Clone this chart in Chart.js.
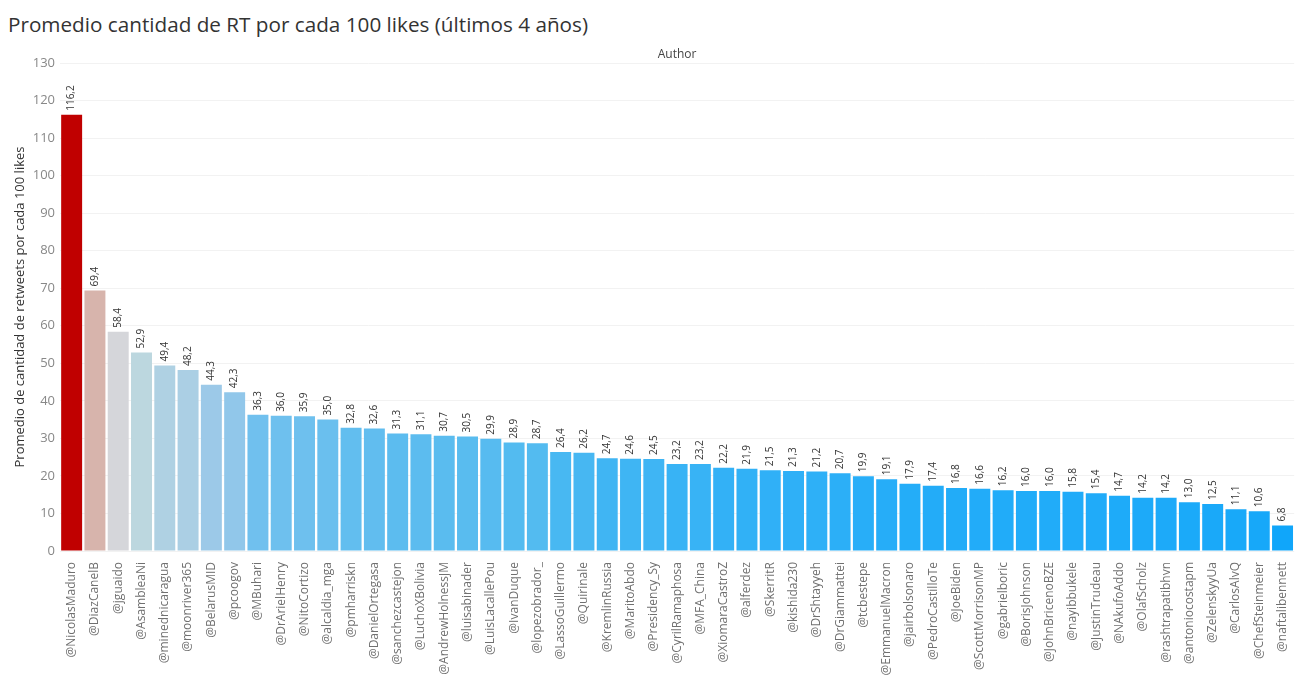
<!DOCTYPE html>
<html>
<head>
<meta charset="utf-8">
<script src="https://cdn.jsdelivr.net/npm/chart.js@4.4.0/dist/chart.umd.min.js"></script>
<style>
  html, body { margin: 0; padding: 0; background: #fff; }
  #title {
    position: absolute; left: 8px; top: 10px;
    font-family: "Open Sans", "Noto Sans", sans-serif; font-size: 20.7px; color: #333;
    white-space: nowrap;
  }
  #wrap { position: absolute; left: 0; top: 40px; width: 1300px; height: 636px; }
</style>
</head>
<body>
<div id="title">Promedio cantidad de RT por cada 100 likes (últimos 4 años)</div>
<div id="wrap"><canvas id="rtChart"></canvas></div>
<script>
// ---------------------------------------------------------------
// Data
// ---------------------------------------------------------------
const authors = [
  "@NicolasMaduro", "@DiazCanelB", "@jguaido", "@AsambleaNi", "@minednicaragua",
  "@moonriver365", "@BelarusMID", "@pcoogov", "@MBuhari", "@DrArielHenry",
  "@NitoCortizo", "@alcaldia_mga", "@pmharriskn", "@DanielOrtegasa", "@sanchezcastejon",
  "@LuchoXBolivia", "@AndrewHolnessJM", "@luisabinader", "@LuisLacallePou", "@IvanDuque",
  "@lopezobrador_", "@LassoGuillermo", "@Quirinale", "@KremlinRussia", "@MaritoAbdo",
  "@Presidency_Sy", "@CyrilRamaphosa", "@MFA_China", "@XiomaraCastroZ", "@alferdez",
  "@SkerritR", "@kishida230", "@DrShtayyeh", "@DrGiammattei", "@tcbestepe",
  "@EmmanuelMacron", "@jairbolsonaro", "@PedroCastilloTe", "@JoeBiden", "@ScottMorrisonMP",
  "@gabrielboric", "@BorisJohnson", "@JohnBricenoBZE", "@nayibbukele", "@JustinTrudeau",
  "@NAkufoAddo", "@OlafScholz", "@rashtrapatibhvn", "@antoniocostapm", "@ZelenskyyUa",
  "@CarlosAlvQ", "@ChefSteinmeier", "@naftalibennett"
];

const rtPer100 = [
  116.2, 69.4, 58.4, 52.9, 49.4,
  48.2, 44.3, 42.3, 36.3, 36.0,
  35.9, 35.0, 32.8, 32.6, 31.3,
  31.1, 30.7, 30.5, 29.9, 28.9,
  28.7, 26.4, 26.2, 24.7, 24.6,
  24.5, 23.2, 23.2, 22.2, 21.9,
  21.5, 21.3, 21.2, 20.7, 19.9,
  19.1, 17.9, 17.4, 16.8, 16.6,
  16.2, 16.0, 16.0, 15.8, 15.4,
  14.7, 14.2, 14.2, 13.0, 12.5,
  11.1, 10.6, 6.8
];

const yTicks = [0, 10, 20, 30, 40, 50, 60, 70, 80, 90, 100, 110, 120, 130];

// ---------------------------------------------------------------
// Diverging colour scale (value -> colour)
// ---------------------------------------------------------------
const colorStops = [
  [6.8,   [16, 166, 250]],
  [20,    [40, 174, 248]],
  [28,    [80, 186, 240]],
  [36,    [110, 192, 238]],
  [45,    [160, 202, 232]],
  [53,    [188, 215, 223]],
  [58.4,  [213, 214, 218]],
  [69.4,  [215, 180, 172]],
  [116.2, [192, 0, 0]]
];

function valueColor(v) {
    for (let i = 1; i < colorStops.length; i++) {
        const [v1, c1] = colorStops[i];
        const [v0, c0] = colorStops[i - 1];
        if (v <= v1) {
            const t = (v - v0) / (v1 - v0);
            const c = c0.map((x, k) => Math.round(x + (c1[k] - x) * t));
            return `rgb(${c[0]},${c[1]},${c[2]})`;
        }
    }
    const last = colorStops[colorStops.length - 1][1];
    return `rgb(${last[0]},${last[1]},${last[2]})`;
}

const FONT = '"Open Sans", "Noto Sans", sans-serif';

// value labels above the bars, rotated
const valueLabels = {
    id: 'valueLabels',
    afterDatasetsDraw(chart) {
        const ctx = chart.ctx;
        const meta = chart.getDatasetMeta(0);
        ctx.save();
        ctx.font = `10px ${FONT}`;
        ctx.fillStyle = '#333';
        ctx.textAlign = 'left';
        ctx.textBaseline = 'middle';
        meta.data.forEach((bar, i) => {
            const txt = rtPer100[i].toFixed(1).replace('.', ',');
            ctx.save();
            ctx.translate(bar.x, bar.y - 4);
            ctx.rotate(-Math.PI / 2);
            ctx.fillText(txt, 0, 0);
            ctx.restore();
        });
        ctx.restore();
    }
};

new Chart(document.getElementById('rtChart'), {
    type: 'bar',
    data: {
        labels: authors,
        datasets: [{
            data: rtPer100,
            backgroundColor: rtPer100.map(valueColor),
            barPercentage: 0.9,
            categoryPercentage: 1.0
        }]
    },
    options: {
        responsive: true,
        maintainAspectRatio: false,
        animation: false,
        layout: { padding: { left: 0, right: 3, top: 0, bottom: 0 } },
        plugins: {
            legend: { display: false },
            tooltip: { enabled: false }
        },
        scales: {
            x: {
                grid: { display: false },
                border: { display: false },
                ticks: {
                    autoSkip: false, minRotation: 90, maxRotation: 90,
                    color: '#707070', padding: 3,
                    font: { family: FONT, size: 12 }
                },
                afterFit(s) { s.height = 125; }
            },
            x2: {
                type: 'category',
                labels: authors,
                position: 'top',
                grid: { display: false, drawTicks: false },
                border: { display: false },
                ticks: { display: false },
                title: {
                    display: true, text: 'Author', color: '#444',
                    font: { family: FONT, size: 12 },
                    padding: { top: 7, bottom: 2 }
                },
                afterFit(s) { s.height = 23; }
            },
            y: {
                min: 0, max: 130,
                afterBuildTicks(s) { s.ticks = yTicks.map(v => ({ value: v })); },
                grid: { color: '#f2f2f2', drawTicks: false },
                border: { display: false },
                ticks: {
                    color: '#888', padding: 5,
                    font: { family: FONT, size: 13 }
                },
                title: {
                    display: true,
                    text: 'Promedio de cantidad de retweets por cada 100 likes',
                    color: '#333',
                    font: { family: FONT, size: 13 },
                    padding: { top: 12, bottom: 4 }
                },
                afterFit(s) { s.width = 60; }
            }
        }
    },
    plugins: [valueLabels]
});
</script>
</body>
</html>
